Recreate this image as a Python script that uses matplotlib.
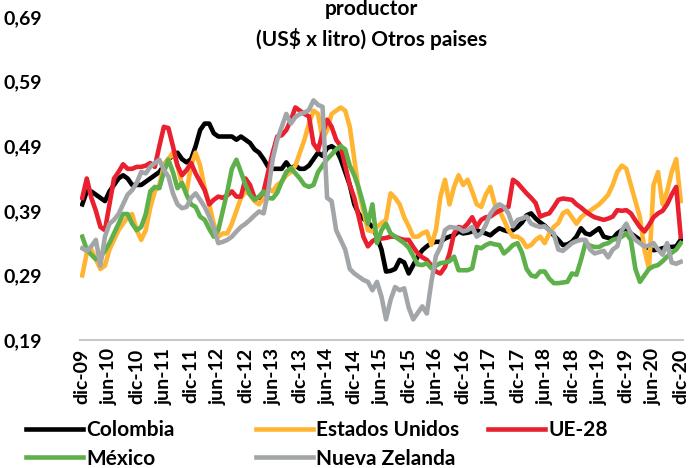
########################
## Precio leche productor - otros paises
########################

import matplotlib
matplotlib.use("Agg")
import matplotlib.pyplot as plt
import numpy as np

# Etiquetas del eje x (cada 6 meses, dic-09 .. dic-20)
tick_labels = ["dic-09", "jun-10", "dic-10", "jun-11", "dic-11", "jun-12",
               "dic-12", "jun-13", "dic-13", "jun-14", "dic-14", "jun-15",
               "dic-15", "jun-16", "dic-16", "jun-17", "dic-17", "jun-18",
               "dic-18", "jun-19", "dic-19", "jun-20", "dic-20"]

y_ticks = [0.19, 0.29, 0.39, 0.49, 0.59, 0.69]

# Series mensuales (US$ x litro), dic-09 .. dic-20
colombia = [0.40,
    0.42, 0.42, 0.415, 0.41, 0.405, 0.42, 0.43, 0.44, 0.445, 0.44, 0.43, 0.43,
    0.43, 0.435, 0.44, 0.445, 0.45, 0.46, 0.47, 0.475, 0.48, 0.47, 0.465, 0.47,
    0.49, 0.515, 0.525, 0.525, 0.51, 0.505, 0.505, 0.505, 0.505, 0.50, 0.505, 0.50,
    0.495, 0.485, 0.48, 0.47, 0.458, 0.455, 0.455, 0.455, 0.465, 0.455, 0.46, 0.455,
    0.455, 0.46, 0.47, 0.48, 0.475, 0.487, 0.49, 0.485, 0.47, 0.45, 0.43, 0.40,
    0.385, 0.378, 0.372, 0.365, 0.35, 0.33, 0.296, 0.297, 0.30, 0.314, 0.31, 0.293,
    0.306, 0.319, 0.329, 0.335, 0.34, 0.342, 0.342, 0.347, 0.35, 0.352, 0.358, 0.355,
    0.356, 0.358, 0.36, 0.357, 0.355, 0.352, 0.358, 0.363, 0.36, 0.358, 0.36, 0.365,
    0.372, 0.383, 0.386, 0.378, 0.372, 0.367, 0.36, 0.352, 0.345, 0.337, 0.338, 0.342,
    0.35, 0.363, 0.355, 0.353, 0.358, 0.363, 0.35, 0.348, 0.347, 0.355, 0.36, 0.363,
    0.355, 0.35, 0.345, 0.334, 0.332, 0.329, 0.33, 0.332, 0.334, 0.334, 0.335, 0.345]

estados_unidos = [0.29,
    0.325, 0.33, 0.315, 0.30, 0.305, 0.33, 0.345, 0.36, 0.37, 0.38, 0.385, 0.36,
    0.345, 0.36, 0.395, 0.42, 0.43, 0.46, 0.47, 0.48, 0.46, 0.43, 0.42, 0.46,
    0.48, 0.46, 0.425, 0.40, 0.37, 0.35, 0.355, 0.355, 0.37, 0.39, 0.41, 0.42,
    0.415, 0.405, 0.40, 0.41, 0.425, 0.42, 0.43, 0.435, 0.445, 0.45, 0.46, 0.48,
    0.50, 0.525, 0.545, 0.54, 0.50, 0.515, 0.54, 0.545, 0.55, 0.545, 0.52, 0.47,
    0.42, 0.39, 0.36, 0.358, 0.365, 0.371, 0.376, 0.417, 0.41, 0.40, 0.38, 0.366,
    0.35, 0.35, 0.355, 0.358, 0.337, 0.36, 0.412, 0.438, 0.40, 0.427, 0.445, 0.43,
    0.438, 0.42, 0.40, 0.396, 0.415, 0.427, 0.40, 0.39, 0.376, 0.36, 0.35, 0.35,
    0.345, 0.334, 0.337, 0.345, 0.35, 0.34, 0.355, 0.365, 0.371, 0.386, 0.39, 0.38,
    0.37, 0.38, 0.386, 0.39, 0.395, 0.40, 0.407, 0.415, 0.43, 0.45, 0.46, 0.455,
    0.43, 0.405, 0.38, 0.33, 0.30, 0.43, 0.45, 0.40, 0.42, 0.45, 0.47, 0.405]

ue_28 = [0.41,
    0.44, 0.41, 0.39, 0.365, 0.36, 0.40, 0.44, 0.45, 0.462, 0.455, 0.455, 0.458,
    0.458, 0.46, 0.464, 0.458, 0.49, 0.52, 0.518, 0.49, 0.46, 0.445, 0.453, 0.464,
    0.448, 0.435, 0.422, 0.40, 0.407, 0.412, 0.41, 0.414, 0.42, 0.412, 0.412, 0.44,
    0.43, 0.41, 0.41, 0.42, 0.45, 0.48, 0.505, 0.507, 0.515, 0.53, 0.55, 0.545,
    0.54, 0.536, 0.494, 0.484, 0.51, 0.531, 0.52, 0.50, 0.49, 0.46, 0.43, 0.41,
    0.38, 0.35, 0.335, 0.343, 0.347, 0.347, 0.348, 0.35, 0.35, 0.347, 0.345, 0.345,
    0.334, 0.324, 0.318, 0.314, 0.305, 0.296, 0.293, 0.303, 0.324, 0.355, 0.365, 0.363,
    0.37, 0.38, 0.365, 0.376, 0.38, 0.381, 0.386, 0.39, 0.393, 0.396, 0.438, 0.433,
    0.425, 0.417, 0.41, 0.402, 0.381, 0.384, 0.386, 0.396, 0.407, 0.409, 0.408, 0.407,
    0.40, 0.395, 0.389, 0.384, 0.38, 0.378, 0.376, 0.378, 0.381, 0.391, 0.39, 0.391,
    0.386, 0.375, 0.365, 0.358, 0.368, 0.38, 0.386, 0.39, 0.40, 0.415, 0.427, 0.35]

mexico = [0.35,
    0.33, 0.322, 0.315, 0.318, 0.328, 0.34, 0.355, 0.37, 0.385, 0.385, 0.37, 0.36,
    0.365, 0.385, 0.42, 0.427, 0.425, 0.45, 0.469, 0.45, 0.425, 0.433, 0.415, 0.40,
    0.396, 0.381, 0.376, 0.362, 0.35, 0.36, 0.39, 0.42, 0.455, 0.469, 0.45, 0.43,
    0.415, 0.407, 0.412, 0.42, 0.41, 0.409, 0.418, 0.435, 0.45, 0.456, 0.448, 0.44,
    0.43, 0.427, 0.43, 0.45, 0.46, 0.47, 0.477, 0.485, 0.49, 0.485, 0.46, 0.445,
    0.425, 0.40, 0.37, 0.40, 0.34, 0.36, 0.37, 0.355, 0.35, 0.345, 0.34, 0.333,
    0.32, 0.307, 0.306, 0.309, 0.301, 0.305, 0.309, 0.31, 0.312, 0.319, 0.298, 0.298,
    0.298, 0.301, 0.334, 0.332, 0.337, 0.34, 0.338, 0.337, 0.324, 0.33, 0.337, 0.34,
    0.325, 0.30, 0.29, 0.288, 0.296, 0.296, 0.285, 0.278, 0.278, 0.279, 0.28, 0.293,
    0.291, 0.314, 0.34, 0.336, 0.334, 0.334, 0.338, 0.34, 0.345, 0.347, 0.35, 0.355,
    0.345, 0.30, 0.28, 0.29, 0.30, 0.304, 0.306, 0.312, 0.319, 0.325, 0.33, 0.34]

nueva_zelanda = [0.332,
    0.328, 0.335, 0.345, 0.305, 0.35, 0.37, 0.376, 0.385, 0.40, 0.415, 0.422, 0.433,
    0.45, 0.448, 0.458, 0.464, 0.469, 0.453, 0.443, 0.417, 0.40, 0.394, 0.396, 0.41,
    0.417, 0.407, 0.396, 0.381, 0.363, 0.34, 0.342, 0.345, 0.35, 0.358, 0.365, 0.37,
    0.376, 0.383, 0.389, 0.386, 0.42, 0.47, 0.50, 0.52, 0.54, 0.525, 0.535, 0.54,
    0.542, 0.546, 0.561, 0.554, 0.551, 0.41, 0.405, 0.36, 0.345, 0.33, 0.30, 0.293,
    0.288, 0.283, 0.28, 0.267, 0.28, 0.257, 0.222, 0.252, 0.272, 0.267, 0.27, 0.24,
    0.222, 0.232, 0.242, 0.231, 0.28, 0.32, 0.334, 0.36, 0.365, 0.364, 0.363, 0.358,
    0.36, 0.365, 0.35, 0.355, 0.368, 0.385, 0.395, 0.40, 0.396, 0.386, 0.366, 0.376,
    0.378, 0.381, 0.37, 0.367, 0.365, 0.366, 0.36, 0.355, 0.33, 0.328, 0.334, 0.34,
    0.343, 0.345, 0.345, 0.33, 0.324, 0.326, 0.328, 0.318, 0.33, 0.335, 0.36, 0.37,
    0.355, 0.345, 0.34, 0.335, 0.336, 0.34, 0.33, 0.322, 0.34, 0.31, 0.308, 0.311]

series_names = ["Colombia", "Estados Unidos", "UE-28", "México", "Nueva Zelanda"]
series_colors = ["#000000", "#FFB531", "#E8202F", "#5DB04A", "#A3A6A8"]


def plot_precios():
    '''
    Precio al productor (US$ x litro), otros paises
    '''
    plt.rcdefaults()
    plt.rcParams["font.family"] = ["Lato", "DejaVu Sans"]
    plt.rcParams["font.weight"] = "bold"
    plt.rcParams["font.size"] = 14
    fig = plt.figure(figsize=(6.95, 4.68), dpi=100)
    ax = fig.add_axes([80 / 695, 1 - 340 / 468, 603 / 695, 323 / 468])

    months = np.arange(len(colombia))
    all_series = [colombia, estados_unidos, ue_28, mexico, nueva_zelanda]
    lines = []
    # Una linea por pais
    for name, values, color in zip(series_names, all_series, series_colors):
        line, = ax.plot(months, values, color=color, lw=3.3, label=name,
                        solid_joinstyle="round")
        lines.append(line)

    # Ejes
    ax.set_xlim(-0.5, len(colombia) - 0.5)
    ax.set_ylim(y_ticks[0], y_ticks[-1])
    ax.set_yticks(y_ticks)
    ax.set_yticklabels(["{:.2f}".format(v).replace(".", ",") for v in y_ticks])
    ax.set_xticks(months[::6])
    ax.set_xticklabels(tick_labels, rotation=90)
    ax.tick_params(axis="y", length=0, pad=27)
    ax.tick_params(axis="x", length=0, pad=6)
    for side in ["top", "right", "left"]:
        ax.spines[side].set_visible(False)
    ax.spines["bottom"].set_color("#C8C8C8")
    ax.spines["bottom"].set_linewidth(1.5)

    # Titulo (cortado arriba como en la imagen)
    fig.text(0.534, 1 - 9 / 468, "productor", ha="center", va="center", fontsize=15)
    fig.text(0.534, 1 - 39 / 468, "(US$ x litro) Otros paises", ha="center", va="center", fontsize=15)

    # Leyenda en tres columnas
    legend_opts = dict(frameon=False, borderaxespad=0, borderpad=0, fontsize=15,
                       handlelength=2.75, handletextpad=0.15, labelspacing=0.42,
                       loc="upper left")
    fig.legend(handles=[lines[0], lines[3]], bbox_to_anchor=(26 / 695, 1 - 420 / 468), **legend_opts)
    fig.legend(handles=[lines[1], lines[4]], bbox_to_anchor=(256 / 695, 1 - 420 / 468), **legend_opts)
    fig.legend(handles=[lines[2]], bbox_to_anchor=(488 / 695, 1 - 420 / 468), **legend_opts)

    fig.savefig("out.png", dpi=100)


plot_precios()
